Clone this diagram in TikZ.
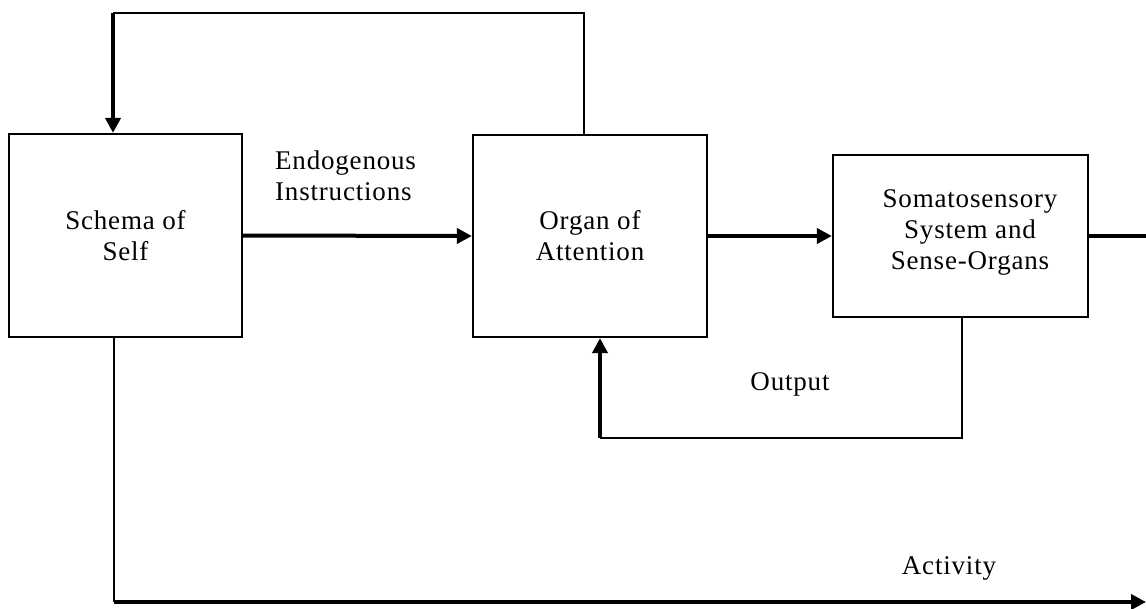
\documentclass[tikz,border=0pt]{standalone}
\usepackage{fontspec}
\setmainfont{Liberation Serif}[LetterSpace=3]
\usetikzlibrary{arrows.meta}
\begin{document}
\begin{tikzpicture}[x=1pt,y=-1pt,
  every node/.style={font=\fontsize{27}{31}\selectfont, inner sep=0pt},
  block/.style={draw, line width=2.2pt, rectangle},
  thinline/.style={line width=2pt},
  thickline/.style={line width=4pt},
  thickarrow/.style={line width=4pt, -{Triangle[length=15pt,width=15pt]}}]
  \useasboundingbox[fill=white] (0,0) rectangle (1146,608);

  % three blocks
  \node[block, minimum width=233pt, minimum height=203pt, align=center]
       (schema) at (125.5,235.5) {Schema of\\Self};
  \node[block, minimum width=234pt, minimum height=202pt, align=center]
       (organ) at (590,236) {Organ of\\Attention};
  \node[block, minimum width=255pt, minimum height=162pt]
       (somato) at (960.5,236) {};
  \node[align=center] (somatotext) at (970,232)
       {Somatosensory\\System and\\Sense-Organs};

  % labels
  \node[align=left, anchor=west] (endo) at (275,176) {Endogenous\\Instructions};
  \node (output) at (790,384) {Output};
  \node (activity) at (949,568) {Activity};

  % loop points
  \coordinate (topR) at (584,13);
  \coordinate (topL) at (113,13);
  \coordinate (outR) at (962,438);
  \coordinate (outL) at (600,438);
  \coordinate (actL) at (114,602);
  \coordinate (actR) at (1146,602);
  \coordinate (exitR) at (1146,236);

  % forward path
  \draw[thickarrow] (schema.east) -- (organ.west);
  \draw[thickarrow] (organ.east) -- (somato.west);
  \draw[thickline] (somato.east) -- (exitR);

  % feedback from attention to self
  \draw[thinline] (organ.north -| topR) -- (topR) -- (topL);
  \draw[thickarrow] (topL) -- (topL |- schema.north);

  % output feedback
  \draw[thinline] (somato.south -| outR) -- (outR) -- (outL);
  \draw[thickarrow] (outL) -- (outL |- organ.south);

  % activity
  \draw[thinline] (schema.south -| actL) -- (actL);
  \draw[thickarrow] (actL) -- (actR);
\end{tikzpicture}
\end{document}
